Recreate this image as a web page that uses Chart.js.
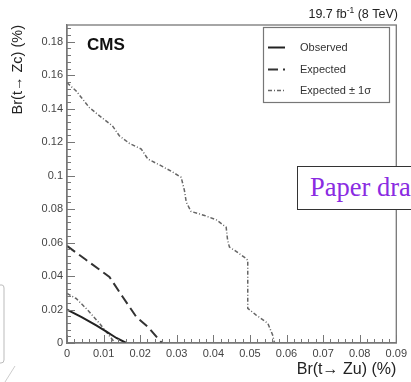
<!DOCTYPE html>
<html><head><meta charset="utf-8">
<script src="https://cdn.jsdelivr.net/npm/chart.js@4/dist/chart.umd.min.js"></script>
<style>
html,body{margin:0;padding:0;background:#fff;overflow:hidden}
#wrap{position:relative;width:411px;height:382px;overflow:hidden}
#c{position:absolute;left:0;top:0}
#note{position:absolute;left:297px;top:166px;width:140px;height:44px;border:1.5px solid #333;background:#fff;font-family:"Liberation Serif",serif;font-size:26.5px;color:#8a2be2;line-height:40px;padding-left:12px;white-space:nowrap;box-sizing:border-box}
#ghost{position:absolute;left:0;top:0}
</style></head><body>
<div id="wrap">
<canvas id="c" width="411" height="382"></canvas>
<div id="note">Paper draft</div>
<svg id="ghost" width="411" height="382"><path d="M-6 285 L2 285 Q4 285 4 288 L4 360 Q4 363 1 363 L-6 363" fill="none" stroke="#bbb" stroke-width="1"/><path d="M5 382 L15 366" stroke="#ccc" stroke-width="1"/></svg>
</div>
<script>
// ---- data ----
const xObserved = [0, 0.004, 0.008, 0.011, 0.0135, 0.0162];
const yObserved = [0.020, 0.0155, 0.0105, 0.0065, 0.003, 0];

const xExpected = [0, 0.0050, 0.0116, 0.0152, 0.0189, 0.0221, 0.0259];
const yExpected = [0.0580, 0.0500, 0.0395, 0.0276, 0.0157, 0.0097, 0];

const xPlus1Sigma = [0, 0.0025, 0.0061, 0.0089, 0.0124, 0.0143, 0.0171, 0.0203, 0.0221, 0.0253, 0.0285, 0.0312, 0.0321, 0.0326, 0.0339, 0.0376, 0.0408, 0.0435, 0.0439, 0.0444, 0.0458, 0.0490, 0.0494, 0.0494, 0.0517, 0.0549, 0.0562, 0.0567];
const yPlus1Sigma = [0.1555, 0.1506, 0.1407, 0.1357, 0.1298, 0.1238, 0.1192, 0.1159, 0.1099, 0.1064, 0.1026, 0.0990, 0.0911, 0.0841, 0.0786, 0.0762, 0.0736, 0.0692, 0.0613, 0.0573, 0.0554, 0.0504, 0.0494, 0.0207, 0.0167, 0.0117, 0.0048, 0];

const xMinus1Sigma = [0, 0.0025, 0.0057, 0.0089, 0.0107, 0.0125, 0.0130];
const yMinus1Sigma = [0.0296, 0.0266, 0.0196, 0.0117, 0.0067, 0.0018, 0];

const xTickValues = [0, 0.01, 0.02, 0.03, 0.04, 0.05, 0.06, 0.07, 0.08, 0.09];
const xTickLabels = ['0', '0.01', '0.02', '0.03', '0.04', '0.05', '0.06', '0.07', '0.08', '0.09'];
const yTickValues = [0, 0.02, 0.04, 0.06, 0.08, 0.10, 0.12, 0.14, 0.16, 0.18];
const yTickLabels = ['0', '0.02', '0.04', '0.06', '0.08', '0.1', '0.12', '0.14', '0.16', '0.18'];

const seriesNames = ['Observed', 'Expected', 'Expected \u00b1 1\u03c3'];

const pts = (xs, ys) => xs.map((x, i) => ({x: x, y: ys[i]}));
const FONT = '"Liberation Sans", Arial, sans-serif';

const styleObs = {borderColor: '#222', borderWidth: 2, borderDash: []};
const styleExp = {borderColor: '#333', borderWidth: 2, borderDash: [10, 5]};
const styleSig = {borderColor: '#666', borderWidth: 1.5, borderDash: [4, 2, 1, 2]};

const deco = {
  id: 'deco',
  afterDraw(chart) {
    const ctx = chart.ctx, a = chart.chartArea;
    const xs = chart.scales.x, ys = chart.scales.y;
    ctx.save();
    // frame
    ctx.strokeStyle = '#777'; ctx.lineWidth = 1.3; ctx.setLineDash([]);
    ctx.strokeRect(a.left, a.top, a.right - a.left, a.bottom - a.top);
    // inward ticks
    ctx.lineWidth = 1; ctx.strokeStyle = '#777';
    ctx.beginPath();
    for (let i = 0; i <= 45; i++) {
      const px = Math.round(xs.getPixelForValue(i * 0.002)) + 0.5;
      const L = (i % 5 === 0) ? 8 : 4;
      ctx.moveTo(px, a.bottom); ctx.lineTo(px, a.bottom - L);
    }
    for (let i = 0; i <= 47; i++) {
      const py = Math.round(ys.getPixelForValue(i * 0.004)) + 0.5;
      const L = (i % 5 === 0) ? 8 : 4;
      ctx.moveTo(a.left, py); ctx.lineTo(a.left + L, py);
    }
    ctx.stroke();
    // CMS label
    ctx.fillStyle = '#111';
    ctx.font = 'bold 17px ' + FONT;
    ctx.textBaseline = 'middle'; ctx.textAlign = 'left';
    ctx.fillText('CMS', 87, 45);
    // lumi label
    ctx.fillStyle = '#222';
    const right = 398, ly = 15;
    const big = '12.5px ' + FONT, small = '8.5px ' + FONT;
    ctx.font = big;
    const t3 = ' (8 TeV)', t1 = '19.7 fb';
    const w3 = ctx.measureText(t3).width, w1 = ctx.measureText(t1).width;
    ctx.font = small;
    const w2 = ctx.measureText('-1').width;
    ctx.textAlign = 'left';
    ctx.font = big;
    ctx.fillText(t3, right - w3, ly);
    ctx.font = small;
    ctx.fillText('-1', right - w3 - w2, ly - 4);
    ctx.font = big;
    ctx.fillText(t1, right - w3 - w2 - w1, ly);
    // legend box
    ctx.fillStyle = '#fff';
    ctx.fillRect(263, 27, 126, 75);
    ctx.strokeStyle = '#777'; ctx.lineWidth = 1.2;
    ctx.strokeRect(263.5, 27.5, 126, 75);
    const styles = [styleObs, styleExp, styleSig];
    const rows = [47.5, 69.5, 90.5];
    ctx.font = '11px ' + FONT;
    ctx.textAlign = 'left'; ctx.textBaseline = 'middle';
    for (let i = 0; i < 3; i++) {
      const s = styles[i];
      ctx.strokeStyle = s.borderColor; ctx.lineWidth = s.borderWidth;
      ctx.setLineDash(s.borderDash);
      ctx.beginPath(); ctx.moveTo(268, rows[i]); ctx.lineTo(285, rows[i]); ctx.stroke();
      ctx.setLineDash([]);
      ctx.fillStyle = '#333';
      ctx.fillText(seriesNames[i], 300, rows[i]);
    }
    ctx.restore();
  }
};

const mk = (label, data, st) => Object.assign({
  label: label, data: data, showLine: true, fill: false, pointRadius: 0, tension: 0
}, st);

new Chart(document.getElementById('c'), {
  type: 'scatter',
  data: {
    datasets: [
      mk(seriesNames[0], pts(xObserved, yObserved), styleObs),
      mk(seriesNames[1], pts(xExpected, yExpected), styleExp),
      mk(seriesNames[2], pts(xPlus1Sigma, yPlus1Sigma), styleSig),
      mk(seriesNames[2] + ' (low)', pts(xMinus1Sigma, yMinus1Sigma), styleSig)
    ]
  },
  options: {
    responsive: false, animation: false, devicePixelRatio: 1,
    layout: {padding: {top: 25, right: 14, left: 0, bottom: 0}},
    plugins: {legend: {display: false}, tooltip: {enabled: false}},
    scales: {
      x: {
        type: 'linear', position: 'bottom', min: 0, max: 0.09,
        grid: {display: false, drawTicks: false},
        border: {display: true, color: '#777', width: 1.3},
        afterBuildTicks: s => { s.ticks = xTickValues.map(v => ({value: v})); },
        afterFit: s => { s.height = 39; },
        ticks: {color: '#444', font: {family: FONT, size: 11}, padding: 4, maxRotation: 0, autoSkip: false,
                callback: (v, i) => xTickLabels[i]},
        title: {display: true, text: 'Br(t\u2192 Zu) (%)', align: 'end', color: '#222',
                font: {family: FONT, size: 16}, padding: {top: 0, bottom: 3}}
      },
      y: {
        type: 'linear', position: 'left', min: 0, max: 0.19,
        grid: {display: false, drawTicks: false},
        border: {display: true, color: '#777', width: 1.3},
        afterBuildTicks: s => { s.ticks = yTickValues.map(v => ({value: v})); },
        afterFit: s => { s.width = 67; },
        ticks: {color: '#444', font: {family: FONT, size: 11}, padding: 4, autoSkip: false,
                callback: (v, i) => yTickLabels[i]},
        title: {display: true, text: 'Br(t\u2192 Zc) (%)', align: 'end', color: '#222',
                font: {family: FONT, size: 14.5}, padding: {top: 9, bottom: 0}}
      }
    }
  },
  plugins: [deco]
});
</script>
</body></html>
